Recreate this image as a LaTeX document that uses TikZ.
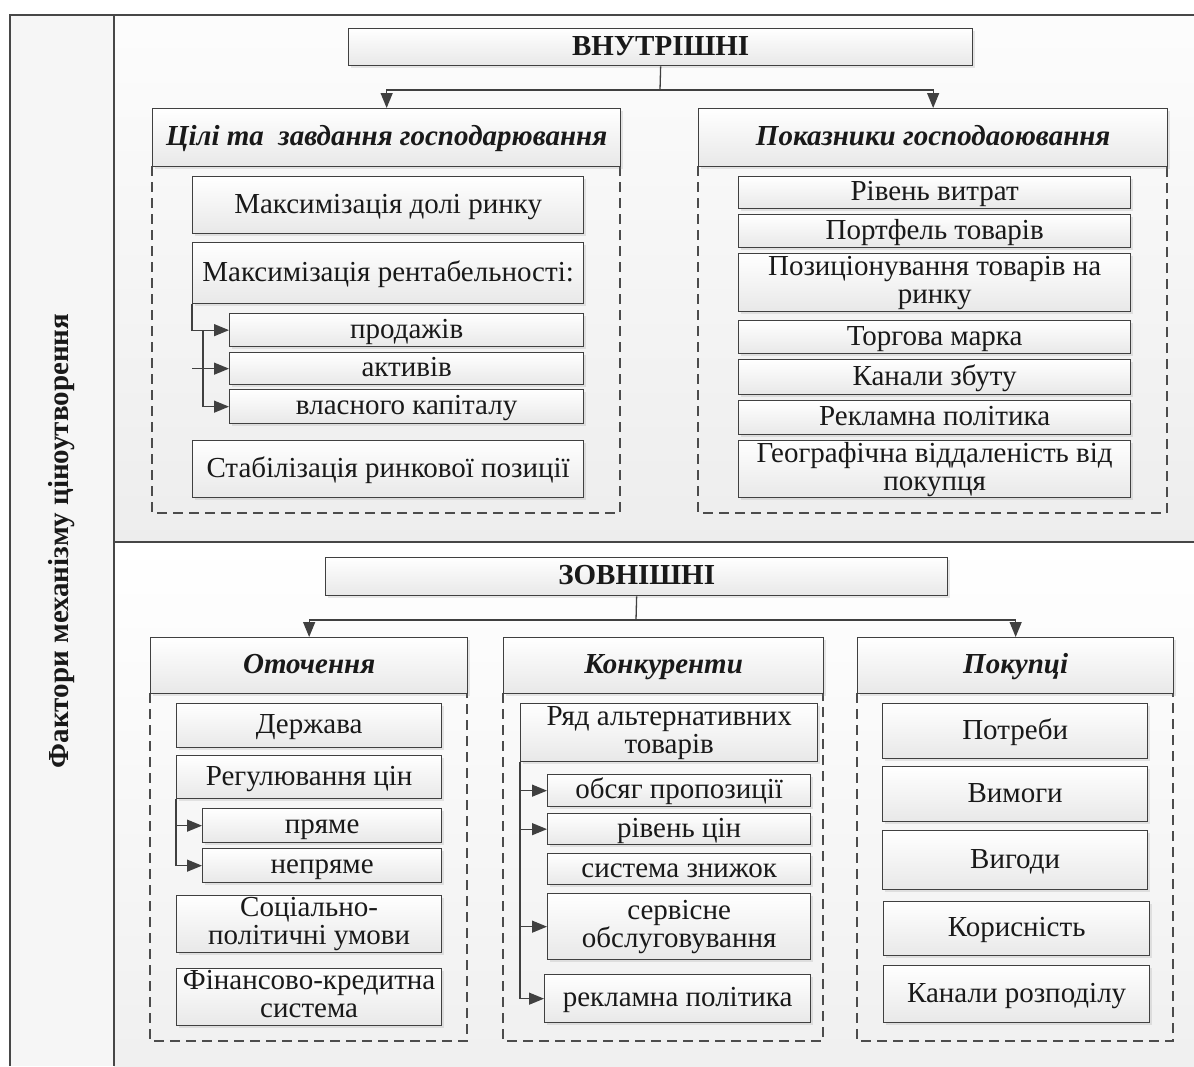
\documentclass[tikz,border=0pt]{standalone}
\usepackage{fontspec}
\setmainfont{Liberation Serif}
\usetikzlibrary{arrows.meta,shadows,calc}

% box given by its top-left and bottom-right corners
\newcommand\boxat[7]{%
  \node[#2, anchor=north west, minimum width={(#5-#3)*1pt}, minimum height={(#6-#4)*1pt}]
    (#1) at (#3,#4) {#7};}
% fixed line height so that every label sits at the same place in its box
\newcommand\cellstrut{\rule[-6pt]{0pt}{28pt}}

\tikzset{
  frameline/.style={draw=black!72, line width=1.3pt},
  cell/.style={draw=black!75, line width=1.3pt, top color=white, bottom color=gray!18,
    drop shadow={shadow xshift=2pt, shadow yshift=-2pt, opacity=.18},
    align=center, inner xsep=2pt, inner ysep=0pt, text=black!90,
    execute at begin node=\cellstrut, execute at end node=\cellstrut,
    font=\fontsize{29}{28}\selectfont},
  head/.style={cell, font=\fontsize{29}{28}\selectfont\bfseries\itshape},
  title/.style={cell, font=\fontsize{29}{28}\selectfont\bfseries},
  group/.style={draw=black!70, line width=1.2pt, dash pattern=on 10pt off 6pt},
  conn/.style={draw=black!75, line width=1.3pt},
  arr/.style={conn, -{Triangle[length=15pt,width=12pt]}},
}

\begin{document}
\begin{tikzpicture}[x=1pt,y=-1pt]
\useasboundingbox (0,0) rectangle (1194,1066);

% backgrounds of the strip and the two sections
\fill[white] (0,0) rectangle (1194,1066);
\fill[gray!7] (10,15) rectangle (114,1066);
\shade[top color=gray!2, bottom color=gray!14] (114,15) rectangle (1194,542);
\shade[top color=white, bottom color=gray!12] (114,542) rectangle (1194,1066);

% outer frame
\draw[frameline] (1194,15) -- (10,15) -- (10,1066);
\draw[frameline] (114,15) -- (114,1066);
\draw[frameline] (114,542) -- (1194,542);

\node[rotate=90, font=\fontsize{29}{28}\selectfont\bfseries, text=black!90] (factors) at (62,541)
  {Фактори механізму ціноутворення};

% ---------- internal factors ----------
\draw[group] (152,166) -- (152,513) -- (620,513) -- (620,166);
\draw[group] (698,166) -- (698,513) -- (1167,513) -- (1167,166);

\boxat{vnutr}{title}{348}{28}{972}{65}{ВНУТРІШНІ}
\boxat{goals}{head}{152}{108}{620}{166}{Цілі та~ завдання господарювання}
\boxat{indic}{head}{698}{108}{1167}{166}{Показники господаоювання}

\boxat{share}{cell}{192}{176}{583}{233}{Максимізація долі ринку}
\boxat{rent}{cell}{192}{242}{583}{303}{Максимізація рентабельності:}
\boxat{sales}{cell}{229}{313}{583}{346}{продажів}
\boxat{assets}{cell}{229}{352}{583}{384}{активів}
\boxat{equity}{cell}{229}{389}{583}{423}{власного капіталу}
\boxat{stab}{cell}{192}{440}{583}{497}{Стабілізація ринкової позиції}

\boxat{costs}{cell}{738}{176}{1130}{208}{Рівень витрат}
\boxat{portf}{cell}{738}{214}{1130}{247}{Портфель товарів}
\boxat{posit}{cell}{738}{253}{1130}{311}{Позиціонування товарів на\\ринку}
\boxat{brand}{cell}{738}{320}{1130}{353}{Торгова марка}
\boxat{chan}{cell}{738}{359}{1130}{394}{Канали збуту}
\boxat{adv}{cell}{738}{400}{1130}{434}{Рекламна політика}
\boxat{geo}{cell}{738}{440}{1130}{497}{Географічна віддаленість від\\покупця}

\coordinate (vj) at (660,90);
\draw[conn] (vnutr.south) -- (vj);
\draw[arr] (vj) -| (goals.north);
\draw[arr] (vj) -| (indic.north);

\draw[arr] (rent.south west) |- (sales.west);
\path (rent.south west) ++(11,0) coordinate (rk0);
\coordinate (rk) at (rk0 |- sales.west);
\draw[arr] (rk) |- (equity.west);
\draw[arr] (rent.south west |- assets.west) -- (assets.west);

% ---------- external factors ----------
\draw[group] (150,693) -- (150,1041) -- (467,1041) -- (467,693);
\draw[group] (503,693) -- (503,1041) -- (823,1041) -- (823,693);
\draw[group] (857,693) -- (857,1041) -- (1173,1041) -- (1173,693);

\boxat{zovn}{title}{325}{557}{947}{595}{ЗОВНІШНІ}
\boxat{env}{head}{150}{637}{467}{693}{Оточення}
\boxat{comp}{head}{503}{637}{823}{693}{Конкуренти}
\boxat{buy}{head}{857}{637}{1173}{693}{Покупці}

\boxat{state}{cell}{176}{703}{441}{747}{Держава}
\boxat{reg}{cell}{176}{755}{441}{798}{Регулювання цін}
\boxat{direct}{cell}{202}{808}{441}{842}{пряме}
\boxat{indirect}{cell}{202}{848}{441}{882}{непряме}
\boxat{soc}{cell}{176}{895}{441}{952}{Соціально-\\політичні умови}
\boxat{fin}{cell}{176}{968}{441}{1025}{Фінансово-кредитна\\система}

\boxat{alt}{cell}{520}{703}{817}{761}{Ряд альтернативних\\товарів}
\boxat{supply}{cell}{547}{774}{810}{806}{обсяг пропозиції}
\boxat{price}{cell}{547}{813}{810}{844}{рівень цін}
\boxat{disc}{cell}{547}{853}{810}{884}{система знижок}
\boxat{serv}{cell}{547}{893}{810}{959}{сервісне\\обслуговування}
\boxat{advc}{cell}{544}{974}{810}{1022}{рекламна політика}

\boxat{needs}{cell}{882}{703}{1147}{758}{Потреби}
\boxat{req}{cell}{882}{766}{1147}{821}{Вимоги}
\boxat{benef}{cell}{882}{830}{1147}{889}{Вигоди}
\boxat{util}{cell}{883}{901}{1149}{955}{Корисність}
\boxat{distr}{cell}{883}{965}{1149}{1022}{Канали розподілу}

\coordinate (zj) at (636,620);
\draw[conn] (zovn.south) -- (zj);
\draw[arr] (zj) -| (env.north);
\draw[arr] (zj) -| (buy.north);

\draw[arr] (reg.south west) |- (direct.west);
\draw[arr] (reg.south west) |- (indirect.west);

\foreach \t in {supply,price,serv,advc}
  \draw[arr] (alt.south west) |- (\t.west);

\end{tikzpicture}
\end{document}
